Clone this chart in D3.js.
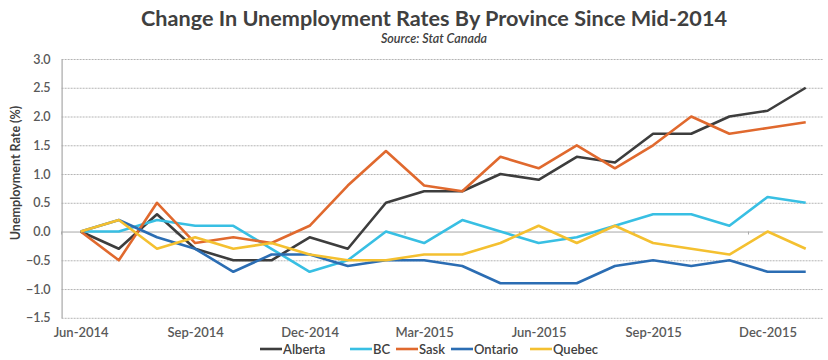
<!DOCTYPE html>
<html>
<head>
<meta charset="utf-8">
<script src="https://cdn.jsdelivr.net/npm/d3@7"></script>
<style>
  html, body { margin: 0; padding: 0; background: #ffffff; }
  svg { display: block; }
  text { font-family: Lato, "Open Sans", sans-serif; }
</style>
</head>
<body>
<svg id="chart" width="828" height="360"></svg>
<script>
// Monthly change in unemployment rate (percentage points) relative to June 2014
const months = [
  "Jun-2014","Jul-2014","Aug-2014","Sep-2014","Oct-2014","Nov-2014","Dec-2014",
  "Jan-2015","Feb-2015","Mar-2015","Apr-2015","May-2015","Jun-2015","Jul-2015",
  "Aug-2015","Sep-2015","Oct-2015","Nov-2015","Dec-2015","Jan-2016"
];
const alberta = [0, -0.3, 0.3, -0.3, -0.5, -0.5, -0.1, -0.3, 0.5, 0.7, 0.7, 1.0, 0.9, 1.3, 1.2, 1.7, 1.7, 2.0, 2.1, 2.5];
const bc      = [0, 0, 0.2, 0.1, 0.1, -0.3, -0.7, -0.5, 0.0, -0.2, 0.2, 0.0, -0.2, -0.1, 0.1, 0.3, 0.3, 0.1, 0.6, 0.5];
const sask    = [0, -0.5, 0.5, -0.2, -0.1, -0.2, 0.1, 0.8, 1.4, 0.8, 0.7, 1.3, 1.1, 1.5, 1.1, 1.5, 2.0, 1.7, 1.8, 1.9];
const ontario = [0, 0.2, -0.1, -0.3, -0.7, -0.4, -0.4, -0.6, -0.5, -0.5, -0.6, -0.9, -0.9, -0.9, -0.6, -0.5, -0.6, -0.5, -0.7, -0.7];
const quebec  = [0, 0.2, -0.3, -0.1, -0.3, -0.2, -0.4, -0.5, -0.5, -0.4, -0.4, -0.2, 0.1, -0.2, 0.1, -0.2, -0.3, -0.4, 0.0, -0.3];

const seriesNames = ["Alberta", "BC", "Sask", "Ontario", "Quebec"];
const seriesColors = ["#3d3d3d", "#38bfe3", "#e0692e", "#2b6db3", "#f4c030"];
const yTicks = [-1.5, -1.0, -0.5, 0.0, 0.5, 1.0, 1.5, 2.0, 2.5, 3.0];
const xTickLabels = ["Jun-2014","Sep-2014","Dec-2014","Mar-2015","Jun-2015","Sep-2015","Dec-2015"];

const titleText = "Change In Unemployment Rates By Province Since Mid-2014";
const subtitleText = "Source: Stat Canada";
const yAxisTitle = "Unemployment Rate (%)";

const series = seriesNames.map((name, i) => ({
  name,
  color: seriesColors[i],
  values: [alberta, bc, sask, ontario, quebec][i]
}));

const svg = d3.select("#chart");
const plot = { left: 61.6, right: 824.8, top: 59, bottom: 317.8 };

const x = d3.scalePoint().domain(months).range([plot.left, plot.right]).padding(0.5);
const y = d3.scaleLinear().domain([-1.5, 3]).range([plot.bottom, plot.top]);
const step = x.step();

// Horizontal gridlines (dashed), zero line drawn solid
const grid = svg.append("g")
  .attr("transform", `translate(${plot.left},0)`)
  .call(d3.axisLeft(y).tickValues(yTicks).tickSize(-(plot.right - plot.left - 2)).tickFormat(""));
grid.select(".domain").remove();
grid.selectAll(".tick line")
  .attr("stroke", d => d === 0 ? "#a8a8a8" : "#b4b4b4")
  .attr("stroke-width", 1)
  .attr("stroke-dasharray", d => d === 0 ? null : "2,1");

// Small category tick marks on the zero line
svg.append("g").selectAll("line")
  .data(xTickLabels)
  .join("line")
  .attr("x1", d => x(d) - step / 2)
  .attr("x2", d => x(d) - step / 2)
  .attr("y1", y(0))
  .attr("y2", y(0) + 3)
  .attr("stroke", "#a8a8a8")
  .attr("stroke-width", 1);

// Y axis with labels
const yAxis = svg.append("g")
  .attr("transform", `translate(${plot.left},0)`)
  .call(d3.axisLeft(y).tickValues(yTicks).tickSize(0).tickPadding(11).tickFormat(d3.format(".1f")));
yAxis.select(".domain").attr("stroke", "#a8a8a8").attr("stroke-width", 1.2);
yAxis.selectAll("text")
  .attr("fill", "#595959")
  .style("font-size", "12.5px")
  .style("font-weight", "600")
  .style("font-family", "Lato, sans-serif");

// X axis labels every quarter
const xAxis = svg.append("g")
  .attr("transform", `translate(0,${plot.bottom})`)
  .call(d3.axisBottom(x).tickValues(xTickLabels).tickSize(0).tickPadding(10));
xAxis.select(".domain").remove();
xAxis.selectAll("text")
  .attr("fill", "#595959")
  .style("font-size", "13px")
  .style("font-weight", "600")
  .style("font-family", "Lato, sans-serif");

// Series lines
const line = d3.line()
  .x((d, i) => x(months[i]))
  .y(d => y(d));

svg.append("g").selectAll("path")
  .data(series)
  .join("path")
  .attr("fill", "none")
  .attr("stroke", d => d.color)
  .attr("stroke-width", 2.6)
  .attr("stroke-linejoin", "round")
  .attr("d", d => line(d.values));

// Title and source
svg.append("text")
  .attr("x", 434).attr("y", 26)
  .attr("text-anchor", "middle")
  .attr("fill", "#404040")
  .style("font-size", "20px")
  .style("font-weight", "700")
  .attr("textLength", 586)
  .attr("lengthAdjust", "spacingAndGlyphs")
  .text(titleText);

svg.append("text")
  .attr("x", 434).attr("y", 43)
  .attr("text-anchor", "middle")
  .attr("fill", "#404040")
  .style("font-size", "12.5px")
  .style("font-style", "italic")
  .style("font-weight", "600")
  .text(subtitleText);

// Y axis title
svg.append("text")
  .attr("transform", `translate(20,${173}) rotate(-90)`)
  .attr("text-anchor", "middle")
  .attr("fill", "#404040")
  .style("font-size", "12.5px")
  .style("font-weight", "700")
  .text(yAxisTitle);

// Legend
const legendX = [260, 350, 396, 451, 530];
const legend = svg.append("g").selectAll("g")
  .data(series)
  .join("g")
  .attr("transform", (d, i) => `translate(${legendX[i]},349)`);
legend.append("line")
  .attr("x1", 0).attr("x2", 22)
  .attr("y1", 0).attr("y2", 0)
  .attr("stroke", d => d.color)
  .attr("stroke-width", 2.6);
legend.append("text")
  .attr("x", 23).attr("y", 4.5)
  .attr("fill", "#404040")
  .style("font-size", "13px")
  .style("font-weight", "600")
  .text(d => d.name);
</script>
</body>
</html>
